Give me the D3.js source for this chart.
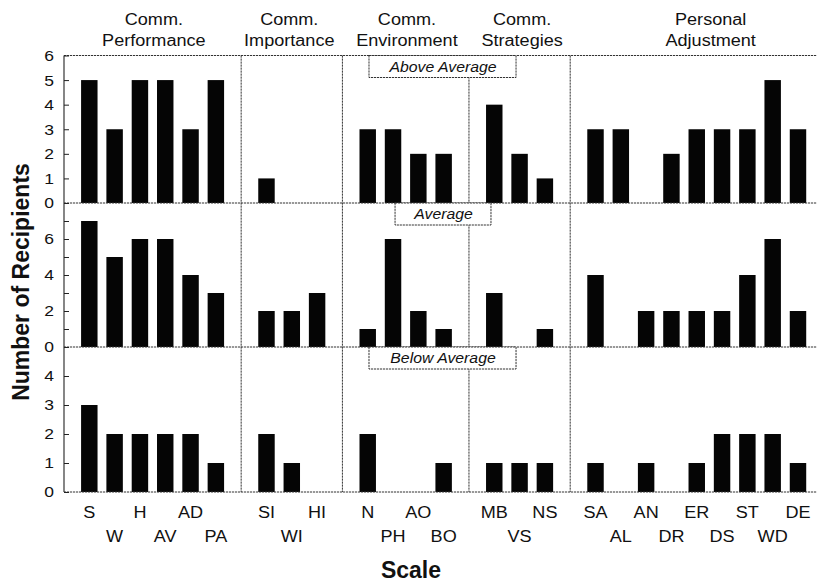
<!DOCTYPE html>
<html>
<head>
<meta charset="utf-8">
<script src="https://cdn.jsdelivr.net/npm/d3@7"></script>
<style>
  body { margin: 0; background: #fff; }
  svg { display: block; }
  text { font-family: "Liberation Sans", Arial, Helvetica, sans-serif; fill: #111; }
</style>
</head>
<body>
<svg id="chart" width="817" height="583"></svg>
<script>
// Scale abbreviations, grouped by domain
const scales = ["S", "W", "H", "AV", "AD", "PA",
                "SI", "WI", "HI",
                "N", "PH", "AO", "BO",
                "MB", "VS", "NS",
                "SA", "AL", "AN", "DR", "ER", "DS", "ST", "WD", "DE"];
const groupNames = [["Comm.", "Performance"], ["Comm.", "Importance"], ["Comm.", "Environment"],
                    ["Comm.", "Strategies"], ["Personal", "Adjustment"]];
const groupSizes = [6, 3, 4, 3, 9];

// Number of recipients per scale in each rating band
const aboveAverage = [5, 3, 5, 5, 3, 5,  1, 0, 0,  3, 3, 2, 2,  4, 2, 1,  3, 3, 0, 2, 3, 3, 3, 5, 3];
const average      = [7, 5, 6, 6, 4, 3,  2, 2, 3,  1, 6, 2, 1,  3, 0, 1,  4, 0, 2, 2, 2, 2, 4, 6, 2];
const belowAverage = [3, 2, 2, 2, 2, 1,  2, 1, 0,  2, 0, 0, 1,  1, 1, 1,  1, 0, 1, 0, 1, 2, 2, 2, 1];

const bandNames = ["Above Average", "Average", "Below Average"];
const bandMax = [6, 8, 5];
const bandTicks = [[0, 1, 2, 3, 4, 5, 6], [0, 1, 2, 3, 4, 5, 6, 7], [0, 1, 2, 3, 4]];
const bandTickLabels = [[0, 1, 2, 3, 4, 5, 6], [0, 2, 4, 6], [0, 1, 2, 3, 4]];

// ---- layout ----
const svg = d3.select("#chart");
const STRETCH = 1.13;           // typeface is drawn slightly wide
const lineColor = "#333";
const dash = "2.2,0.8";

// slot positions: each group is followed by one separator slot
const slotOf = [];
const separators = [];
{
  let pos = 1, i = 0;
  groupSizes.forEach(n => {
    for (let j = 0; j < n; j++) slotOf.push({ slot: pos + j, idx: j, name: scales[i++] });
    separators.push(pos + n);
    pos += n + 1;
  });
}
const totalSlots = separators[separators.length - 1];

const x = d3.scaleLinear().domain([0, totalSlots]).range([64, 823.3]);
const slotW = x(1) - x(0);
const barW = slotW * 0.65;

const bandBounds = [[55.5, 203], [203, 347], [347, 492]];
const bandData = [aboveAverage, average, belowAverage];
const yScales = bandBounds.map((b, i) => d3.scaleLinear().domain([0, bandMax[i]]).range([b[1], b[0]]));

const plot = svg.append("g");

// bars
bandData.forEach((vals, bi) => {
  const y = yScales[bi];
  plot.append("g").selectAll("rect")
    .data(slotOf.map((s, i) => ({ ...s, v: vals[i] })).filter(d => d.v > 0))
    .join("rect")
    .attr("x", d => x(d.slot) - barW / 2)
    .attr("width", barW)
    .attr("y", d => y(d.v))
    .attr("height", d => y(0) - y(d.v))
    .attr("fill", "#050505");
});

// frame lines: top, band dividers, bottom
const hLines = [bandBounds[0][0], bandBounds[0][1], bandBounds[1][1], bandBounds[2][1]];
plot.append("g").selectAll("line").data(hLines).join("line")
  .attr("x1", x(0)).attr("x2", x(totalSlots))
  .attr("y1", d => d).attr("y2", d => d)
  .attr("stroke", lineColor).attr("stroke-width", 1).attr("stroke-dasharray", dash);

// vertical group separators
plot.append("g").selectAll("line").data(separators).join("line")
  .attr("x1", d => x(d)).attr("x2", d => x(d))
  .attr("y1", bandBounds[0][0]).attr("y2", bandBounds[2][1])
  .attr("stroke", lineColor).attr("stroke-width", 1).attr("stroke-dasharray", dash);

// left border
plot.append("line")
  .attr("x1", x(0)).attr("x2", x(0))
  .attr("y1", bandBounds[0][0]).attr("y2", bandBounds[2][1])
  .attr("stroke", "#222").attr("stroke-width", 1.1);

function stretchText(sel) {
  sel.each(function () {
    const t = d3.select(this);
    const tx = +t.attr("x") || 0;
    t.attr("x", 0).attr("transform", `translate(${tx},0) scale(${STRETCH},1)`);
  });
}

// y axes, ticks point inward
yScales.forEach((y, bi) => {
  const labelSet = new Set(bandTickLabels[bi]);
  const g = svg.append("g")
    .attr("transform", `translate(${x(0)},0)`)
    .call(d3.axisLeft(y)
      .tickValues(bandTicks[bi])
      .tickSize(-5)
      .tickPadding(10)
      .tickFormat(d => labelSet.has(d) ? d : ""));
  g.select(".domain").remove();
  g.selectAll(".tick line").attr("stroke", "#222");
  g.selectAll(".tick text")
    .attr("font-size", 15.5)
    .attr("font-family", "Liberation Sans, Arial, sans-serif")
    .attr("fill", "#111");
  stretchText(g.selectAll(".tick text"));

  const gr = svg.append("g")
    .attr("transform", `translate(${x(totalSlots)},0)`)
    .call(d3.axisRight(y).tickValues(bandTicks[bi]).tickSize(-5).tickFormat(""));
  gr.select(".domain").attr("stroke", "#222");
  gr.selectAll(".tick line").attr("stroke", "#222");
});

// band caption boxes
const boxSpan = [[12.05, 17.86], [13.08, 16.87], [12.05, 17.86]];
bandNames.forEach((name, bi) => {
  const top = bandBounds[bi][0];
  const x0 = x(boxSpan[bi][0]), x1 = x(boxSpan[bi][1]);
  svg.append("rect")
    .attr("x", x0).attr("y", top)
    .attr("width", x1 - x0).attr("height", 22)
    .attr("fill", "#fff")
    .attr("stroke", lineColor).attr("stroke-width", 1).attr("stroke-dasharray", dash);
  svg.append("text")
    .attr("transform", `translate(${(x0 + x1) / 2 + 0.5},${top + 16}) scale(${STRETCH},1)`)
    .attr("text-anchor", "middle")
    .attr("font-size", 14)
    .attr("font-style", "italic")
    .text(name);
});

// scale labels along the bottom, alternating rows within each group
svg.append("g").selectAll("text").data(slotOf).join("text")
  .attr("transform", d => `translate(${x(d.slot)},${d.idx % 2 === 0 ? 518 : 541.5}) scale(${STRETCH},1)`)
  .attr("text-anchor", "middle")
  .attr("font-size", 16)
  .text(d => d.name);

// group headers
const headerAt = [3.55, 8.9, 13.55, 18.1, 25.55];
groupNames.forEach((lines, gi) => {
  lines.forEach((ln, li) => {
    svg.append("text")
      .attr("transform", `translate(${x(headerAt[gi])},${li === 0 ? 25 : 45.5}) scale(${STRETCH},1)`)
      .attr("text-anchor", "middle")
      .attr("font-size", 16)
      .text(ln);
  });
});

// axis titles
svg.append("text")
  .attr("transform", "translate(28.5,282) rotate(-90)")
  .attr("text-anchor", "middle")
  .attr("font-size", 23)
  .attr("font-weight", "bold")
  .text("Number of Recipients");

svg.append("text")
  .attr("x", 411).attr("y", 578)
  .attr("text-anchor", "middle")
  .attr("font-size", 23)
  .attr("font-weight", "bold")
  .text("Scale");
</script>
</body>
</html>
